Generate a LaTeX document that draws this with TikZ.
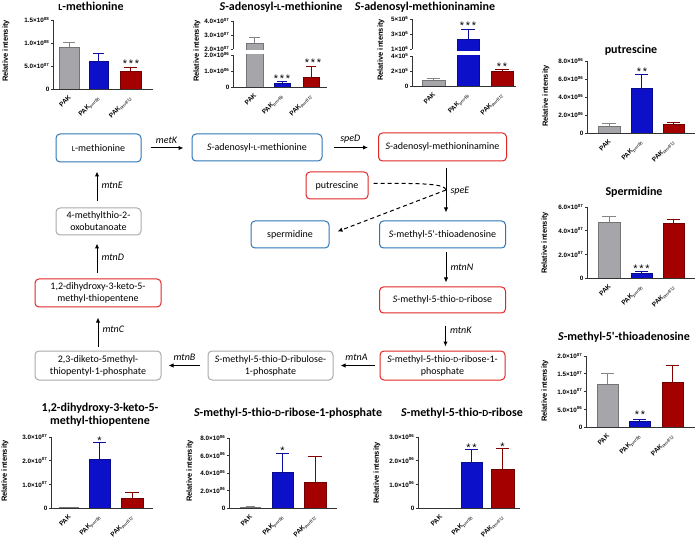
\documentclass[tikz,border=0pt]{standalone}
\usepackage{fontspec}
\setmainfont{Carlito}
\newfontfamily\chartfont{Liberation Sans}
\usetikzlibrary{arrows.meta}
\definecolor{bxblue}{RGB}{46,117,182}
\definecolor{bxred}{RGB}{226,38,38}
\definecolor{bxgray}{RGB}{170,170,170}
\definecolor{bgray}{RGB}{166,166,170}
\definecolor{bblue}{RGB}{12,16,200}
\definecolor{bred}{RGB}{165,0,0}
\newcommand\sca[1]{\scalebox{0.78}{#1}}
\newcommand\tkv[2]{#1\texttimes10\textsuperscript{#2}}
\newcommand\cbar[6]{%
 \pgfmathsetmacro\barcx{(#2+#3)/2}%
 \pgfmathsetmacro\barcap{0.3*(#3-#2)}%
 \draw[errln, draw=#1!80!black] (\barcx,#5) -- (\barcx,#6) (\barcx-\barcap,#6) -- (\barcx+\barcap,#6);
 \draw[barln, draw=#1!70!black, fill=#1] (#2,#4) rectangle (#3,#5);}
\newcommand\gapband[4]{\fill[white] (#1-1,#3) rectangle (#2+1,#4);}
\newcommand\ytk[3]{\draw[axisln] (#1,#2) -- (#1-2.5,#2); \node[ticklab] at (#1-3.5,#2) {#3};}
\newcommand\caxes[4]{\draw[axisln] (#1,#2) -- (#1,#3) -- (#4,#3);}
\newcommand\xlabs[4]{%
 \node[xl] at (#2+2.5,#1+6) {\rotatebox{45}{PAK}};
 \node[xl] at (#3+2.5,#1+6) {\rotatebox{45}{PAK\textsubscript{\normalfont\itshape pmrB6}}};
 \node[xl] at (#4+2.5,#1+6) {\rotatebox{45}{PAK\textsubscript{\normalfont\itshape pmrB12}}};}
\newcommand\ylabel[2]{\node[ylab] at (#1,#2) {\rotatebox{90}{Relative intensity}};}
\newcommand\stars[3]{\node[starlab] at (#1,#2+6) {#3};}
\newcommand\sthree{*\kern1.8pt*\kern1.8pt*}
\newcommand\stwo{*\kern1.8pt*}
\tikzset{
 box/.style={draw, rounded corners=4pt, line width=1pt, align=center,
   font=\fontsize{10}{12}\selectfont, inner sep=1pt},
 bluebox/.style={box, draw=bxblue},
 redbox/.style={box, draw=bxred},
 graybox/.style={box, draw=bxgray},
 arr/.style={-{Latex[length=5pt,width=4.5pt]}, line width=1pt},
 dashln/.style={line width=1pt, dash pattern=on 4pt off 3pt},
 enz/.style={font=\itshape\fontsize{10}{12}\selectfont, inner sep=1pt},
 axisln/.style={line width=0.7pt, draw=black!80},
 errln/.style={line width=0.8pt},
 barln/.style={line width=0.7pt},
 ticklab/.style={anchor=east, inner sep=0pt, font=\chartfont\bfseries\fontsize{6.3}{7}\selectfont},
 xl/.style={anchor=north east, inner sep=0pt, font=\chartfont\bfseries\fontsize{6.5}{7}\selectfont},
 ylab/.style={inner sep=0pt, font=\chartfont\bfseries\fontsize{7.5}{8}\selectfont},
 ctitle/.style={font=\bfseries\fontsize{12}{13}\selectfont, align=center, inner sep=0pt},
 starlab/.style={anchor=base, inner sep=0pt, font=\chartfont\fontsize{11}{12}\selectfont},
}
\begin{document}
\begin{tikzpicture}[x=1pt,y=-1pt]
\useasboundingbox (0,0) rectangle (696,545);
\fill[white] (0,0) rectangle (696,545);

% ---------------- pathway ----------------
\node[bluebox, minimum width=85pt, minimum height=28pt] (met) at (98.5,148) {\sca{L}-methionine};
\node[bluebox, minimum width=130pt, minimum height=27pt] (sam) at (257,147.5) {\textit{S}-adenosyl-\sca{L}-methionine};
\node[redbox, minimum width=128pt, minimum height=28pt] (dcsam) at (442.5,147) {\textit{S}-adenosyl-methioninamine};
\node[redbox, minimum width=62pt, minimum height=27pt] (put) at (337,185.5) {putrescine};
\node[bluebox, minimum width=78pt, minimum height=27pt] (spd) at (290,234.5) {spermidine};
\node[bluebox, minimum width=126pt, minimum height=27pt] (mta) at (442.5,234.5) {\textit{S}-methyl-5\textquotesingle-thioadenosine};
\node[redbox, minimum width=126pt, minimum height=26pt] (mtr) at (442.5,300) {\textit{S}-methyl-5-thio-\sca{D}-ribose};
\node[redbox, minimum width=125pt, minimum height=29pt] (mtrp) at (442.5,365.5) {\textit{S}-methyl-5-thio-\sca{D}-ribose-1-\\phosphate};
\node[graybox, minimum width=125pt, minimum height=29pt] (mtrup) at (270.5,365.5) {\textit{S}-methyl-5-thio-D-ribulose-\\1-phosphate};
\node[graybox, minimum width=126pt, minimum height=29pt] (dk) at (98,365.5) {2,3-diketo-5methyl-\\thiopentyl-1-phosphate};
\node[redbox, minimum width=126pt, minimum height=28pt] (dhk) at (98,293) {1,2-dihydroxy-3-keto-5-\\methyl-thiopentene};
\node[graybox, minimum width=85pt, minimum height=27pt] (mob) at (98.5,221.5) {4-methylthio-2-\\oxobutanoate};

\draw[arr, shorten <=9pt, shorten >=8pt] (met.east) -- node[enz, above=3pt] {metK} (met.east -| sam.west);
\draw[arr, shorten <=11pt, shorten >=10pt] (sam.east) -- node[enz, above=3pt] {speD} (sam.east -| dcsam.west);
\draw[arr, shorten <=7pt, shorten >=8pt] ([xshift=3.5pt]dcsam.south) -- node[enz, right=3pt] (speE) {speE} ([xshift=3.5pt]mta.north);
\draw[arr, shorten <=4pt, shorten >=4pt] ([xshift=3.5pt]mta.south) -- node[enz, right=3pt] {mtnN} ([xshift=3.5pt]mtr.north);
\draw[arr, shorten <=12pt, shorten >=4pt] ([xshift=3pt]mtr.south) -- node[enz, right=3pt, yshift=2pt] {mtnK} ([xshift=3pt]mtrp.north);
\draw[arr, shorten <=5pt, shorten >=7pt] (mtrp.west) -- node[enz, above=3pt] {mtnA} (mtrup.east);
\draw[arr, shorten <=8pt, shorten >=7pt] (mtrup.west) -- node[enz, above=3pt] {mtnB} (dk.east);
\draw[arr, shorten <=4pt, shorten >=10pt] (dk.north) -- node[enz, right=3pt] {mtnC} (dhk.south);
\draw[arr, shorten <=5pt, shorten >=8pt] ([xshift=-1pt]dhk.north) -- node[enz, right=3pt] {mtnD} ([xshift=-1.5pt]mob.south);
\draw[arr, shorten <=6pt, shorten >=9pt] ([xshift=-1.5pt]mob.north) -- node[enz, right=3pt] {mtnE} ([xshift=-1.5pt]met.south);

\coordinate (sp) at (446,190);
\draw[dashln] ([xshift=5pt,yshift=2pt]put.east) .. controls (425,183) and (445,184) .. (sp);
\draw[dashln, -{Latex[length=5pt,width=4.5pt]}] (sp) -- ([xshift=8pt,yshift=3pt]spd.east);

% ---------------- chart 1: L-methionine ----------------
\node[ctitle] (t1) at (91,6) {\sca{L}-methionine};
\ylabel{6}{51}
\cbar{bgray}{59}{79}{89}{47}{42}
\cbar{bblue}{89}{108}{89}{61}{53}
\cbar{bred}{120}{141}{89}{71}{67}
\caxes{53}{20}{89}{153}
\ytk{53}{20}{\tkv{1.5}{08}}
\ytk{53}{43}{\tkv{1.0}{08}}
\ytk{53}{66}{\tkv{5.0}{07}}
\ytk{53}{89}{0}
\xlabs{89}{69}{98.5}{130.5}
\stars{131}{62}{\sthree}

% ---------------- chart 2: SAM ----------------
\node[ctitle] (t2) at (281,7) {\textit{S}-adenosyl-\sca{L}-methionine};
\ylabel{197}{51}
\cbar{bgray}{246}{263}{87}{43}{37}
\gapband{246}{263}{50}{54}
\cbar{bblue}{274}{290}{87}{83}{81}
\cbar{bred}{303}{319}{87}{77}{66}
\draw[axisln] (233,21) -- (233,49);
\draw[axisln] (233,55) -- (233,87) -- (327,87);
\ytk{233}{21}{\tkv{4.0}{07}}
\ytk{233}{35}{\tkv{3.0}{07}}
\ytk{233}{49}{\tkv{2.0}{07}}
\ytk{233}{55}{\tkv{2.0}{06}}
\ytk{233}{71}{\tkv{1.0}{06}}
\ytk{233}{87}{0}
\xlabs{87}{254.5}{282}{311}
\stars{282}{77}{\sthree}
\stars{313}{61}{\sthree}

% ---------------- chart 3: dcSAM ----------------
\node[ctitle] (t3) at (425,7) {\textit{S}-adenosyl-methioninamine};
\ylabel{381}{50}
\cbar{bgray}{422}{445}{86}{80}{78}
\cbar{bblue}{457}{479}{86}{39}{29}
\gapband{457}{479}{51}{55}
\cbar{bred}{491}{513}{86}{71}{69}
\draw[axisln] (412,19) -- (412,49);
\draw[axisln] (412,56) -- (412,86) -- (516,86);
\ytk{412}{19}{5\texttimes10\textsuperscript{6}}
\ytk{412}{34}{3\texttimes10\textsuperscript{6}}
\ytk{412}{49}{1\texttimes10\textsuperscript{6}}
\ytk{412}{56}{4\texttimes10\textsuperscript{5}}
\ytk{412}{71}{2\texttimes10\textsuperscript{5}}
\ytk{412}{86}{0}
\xlabs{86}{433.5}{468}{502}
\stars{468}{24}{\sthree}
\stars{502}{65}{\stwo}

% ---------------- chart 4: putrescine ----------------
\node[ctitle] (t4) at (631,50) {putrescine};
\ylabel{546}{96}
\cbar{bgray}{598}{620}{133}{126}{123}
\cbar{bblue}{631}{652}{133}{88}{74}
\cbar{bred}{663}{684}{133}{124}{122}
\caxes{587}{61}{133}{695}
\ytk{587}{61}{\tkv{8.0}{06}}
\ytk{587}{79}{\tkv{6.0}{06}}
\ytk{587}{97}{\tkv{4.0}{06}}
\ytk{587}{115}{\tkv{2.0}{06}}
\ytk{587}{133}{0}
\xlabs{133}{609}{641.5}{673.5}
\stars{642}{70}{\stwo}

% ---------------- chart 5: spermidine ----------------
\node[ctitle] (t5) at (634,192) {Spermidine};
\ylabel{545}{243}
\cbar{bgray}{598}{620}{278}{222}{216}
\cbar{bblue}{631}{652}{278}{273}{271}
\cbar{bred}{663}{684}{278}{223}{219}
\caxes{587}{207}{278}{695}
\ytk{587}{207}{\tkv{6.0}{07}}
\ytk{587}{230.7}{\tkv{4.0}{07}}
\ytk{587}{254.3}{\tkv{2.0}{07}}
\ytk{587}{278}{0}
\xlabs{278}{609}{641.5}{673.5}
\stars{641.5}{267}{\sthree}

% ---------------- chart 6: MTA ----------------
\node[ctitle] (t6) at (624,337) {\textit{S}-methyl-5\textquotesingle-thioadenosine};
\ylabel{545}{391}
\cbar{bgray}{597}{618}{427}{384}{373}
\cbar{bblue}{629}{650}{427}{421}{419}
\cbar{bred}{662}{683}{427}{382}{365}
\caxes{586}{356}{427}{695}
\ytk{586}{356}{\tkv{2.0}{07}}
\ytk{586}{373.75}{\tkv{1.5}{07}}
\ytk{586}{391.5}{\tkv{1.0}{07}}
\ytk{586}{409.25}{\tkv{5.0}{06}}
\ytk{586}{427}{0}
\xlabs{427}{607.5}{639.5}{672.5}
\stars{640}{412}{\stwo}

% ---------------- chart 7: DHK-MTPene ----------------
\node[ctitle] (t7) at (100,415) {1,2-dihydroxy-3-keto-5-\\methyl-thiopentene};
\ylabel{5}{471}
\draw[barln, draw=bgray!70!black] (59,507.6) -- (79,507.6);
\cbar{bblue}{89}{110}{508}{459}{442}
\cbar{bred}{121}{143}{508}{498}{492}
\caxes{51}{437}{508}{153}
\ytk{51}{437}{\tkv{3.0}{07}}
\ytk{51}{460.7}{\tkv{2.0}{07}}
\ytk{51}{484.3}{\tkv{1.0}{07}}
\ytk{51}{508}{0}
\xlabs{508}{69}{99.5}{132}
\stars{99.5}{438.5}{*}

% ---------------- chart 8: MTR-1-P ----------------
\node[ctitle] (t8) at (288,413) {\textit{S}-methyl-5-thio-\sca{D}-ribose-1-phosphate};
\ylabel{190}{471}
\draw[errln, draw=bgray!80!black] (250.5,507) -- (250.5,506.5) (246,506.5) -- (255,506.5);
\draw[barln, draw=bgray!70!black] (240,507.6) -- (261,507.6);
\cbar{bblue}{272}{293}{508}{472}{453}
\cbar{bred}{304}{326}{508}{482}{456}
\caxes{229}{438}{508}{337}
\ytk{229}{438}{\tkv{8.0}{06}}
\ytk{229}{455.5}{\tkv{6.0}{06}}
\ytk{229}{473}{\tkv{4.0}{06}}
\ytk{229}{490.5}{\tkv{2.0}{06}}
\ytk{229}{508}{0}
\xlabs{508}{250.5}{282.5}{315}
\stars{282.5}{448}{*}

% ---------------- chart 9: MTR ----------------
\node[ctitle] (t9) at (462,413) {\textit{S}-methyl-5-thio-\sca{D}-ribose};
\ylabel{377}{473}
\cbar{bblue}{461}{482}{508}{462}{449}
\cbar{bred}{491}{514}{508}{469}{448}
\caxes{418}{437}{508}{520}
\ytk{418}{437}{\tkv{3.0}{06}}
\ytk{418}{460.7}{\tkv{2.0}{06}}
\ytk{418}{484.3}{\tkv{1.0}{06}}
\ytk{418}{508}{0}
\xlabs{508}{440.5}{471.5}{502.5}
\stars{471.5}{445}{\stwo}
\stars{502.5}{444}{*}
\end{tikzpicture}
\end{document}
